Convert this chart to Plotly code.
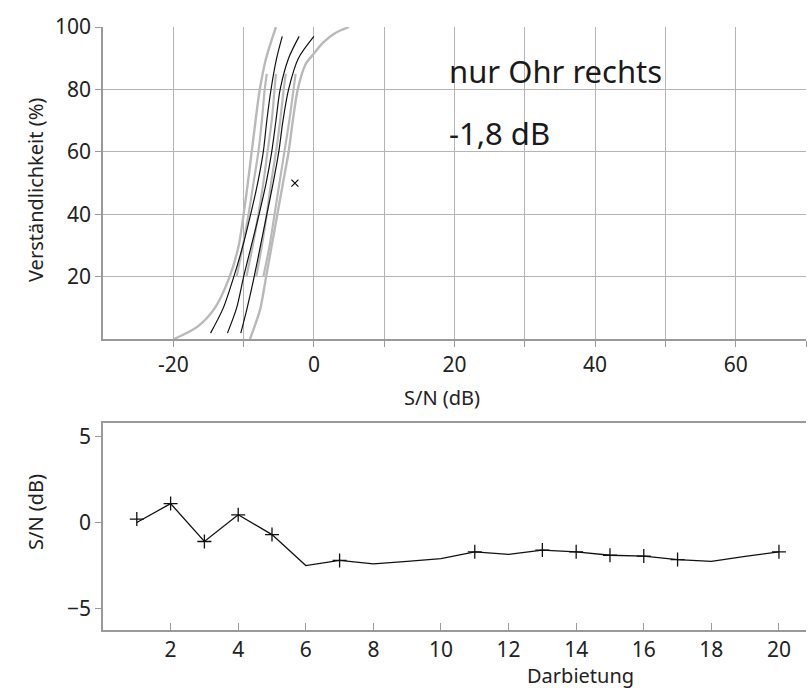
import plotly.graph_objects as go

# ---------------- top chart data: psychometric curves (S/N dB, %) ----------------
pct_full = [2, 10, 20, 30, 40, 50, 60, 70, 80, 90, 97]
black1_db = [-14.7, -12.9, -11.4, -10.1, -9.0, -8.0, -7.2, -6.7, -6.1, -5.3, -4.5]
black2_db = [-12.3, -11.0, -10.0, -8.9, -7.8, -6.8, -6.0, -5.4, -4.8, -3.6, -2.1]
black3_db = [-10.4, -9.5, -8.5, -7.6, -6.7, -5.8, -5.0, -4.4, -3.6, -2.2, 0.0]

gray_left_pct = [0, 4, 10, 20, 30, 40, 50, 60, 70, 80, 90, 100]
gray_left_db = [-20.0, -16.6, -14.1, -12.0, -10.7, -10.0, -9.4, -8.85, -8.3, -7.7, -6.8, -5.4]

gray_right_pct = [0, 5, 10, 20, 30, 40, 50, 60, 70, 80, 88, 91.5, 95, 98, 100]
gray_right_db = [-9.1, -8.3, -7.6, -6.8, -6.0, -5.2, -4.4, -3.6, -3.0, -2.3, -1.2, 0.0, 1.3, 3.0, 5.0]

pct_inner = [20, 30, 40, 50, 60, 70, 80, 85]
gray_in1_db = [-11.0, -10.1, -9.3, -8.6, -7.9, -7.4, -7.0, -6.7]
gray_in2_db = [-9.6, -8.7, -7.9, -7.2, -6.6, -6.0, -5.6, -5.4]
gray_in3_db = [-8.2, -7.4, -6.7, -6.1, -5.4, -4.8, -4.3, -4.0]
gray_in4_db = [-7.2, -6.3, -5.6, -4.9, -4.2, -3.5, -2.9, -2.6]

result_db = [-2.7]
result_pct = [50]

x_top_ticks = [-20, -10, 0, 10, 20, 30, 40, 50, 60, 70]
x_top_text = ["-20", "", "0", "", "20", "", "40", "", "60", ""]
y_top_ticks = [20, 40, 60, 80, 100]

# ---------------- bottom chart data: adaptive track ----------------
trial = list(range(1, 21))
snr_track = [0.0, 1.1, -1.1, 0.45, -0.7, -2.5, -2.2, -2.4, -2.25, -2.1,
             -1.7, -1.85, -1.6, -1.7, -1.9, -1.95, -2.15, -2.25, -1.97, -1.7]
marker_trial = [1, 2, 3, 4, 5, 7, 11, 13, 14, 15, 16, 17, 20]
marker_snr = [0.2, 1.1, -1.1, 0.45, -0.7, -2.2, -1.7, -1.6, -1.7, -1.9, -1.95, -2.15, -1.7]
x_bottom_ticks = list(range(2, 21, 2))
y_bottom_ticks = [-5, 0, 5]

FONT = "Noto Sans"
GRID = "#b4b4b4"
AXIS = "#9a9a9a"
LIGHT = "#b9b9b9"
INK = "#1a1a1a"

fig = go.Figure()

def add_curve(xs, ys, color, width):
    fig.add_trace(go.Scatter(x=xs, y=ys, mode="lines",
                             line=dict(color=color, width=width, shape="spline", smoothing=0.8),
                             xaxis="x", yaxis="y", hoverinfo="skip", showlegend=False))

add_curve(gray_left_db, gray_left_pct, LIGHT, 2.4)
add_curve(gray_right_db, gray_right_pct, LIGHT, 2.4)
for g in (gray_in1_db, gray_in2_db, gray_in3_db, gray_in4_db):
    add_curve(g, pct_inner, LIGHT, 2.2)
for b in (black1_db, black2_db, black3_db):
    add_curve(b, pct_full, "#111111", 1.2)

fig.add_trace(go.Scatter(x=result_db, y=result_pct, mode="markers",
                         marker=dict(symbol="x-thin", size=7, line=dict(color="#111111", width=1.2)),
                         xaxis="x", yaxis="y", showlegend=False))

fig.add_trace(go.Scatter(x=trial, y=snr_track, mode="lines", line=dict(color="#111111", width=1.3),
                         xaxis="x2", yaxis="y2", showlegend=False))
fig.add_trace(go.Scatter(x=marker_trial, y=marker_snr, mode="markers",
                         marker=dict(symbol="cross-thin", size=10, line=dict(color="#111111", width=1.3)),
                         xaxis="x2", yaxis="y2", showlegend=False))

fig.add_annotation(x=18.9, y=86, xref="x", yref="y", text="nur Ohr rechts", showarrow=False,
                   xanchor="left", yanchor="middle", font=dict(size=31, color=INK, family=FONT))
fig.add_annotation(x=18.9, y=66, xref="x", yref="y", text="-1,8 dB", showarrow=False,
                   xanchor="left", yanchor="middle", font=dict(size=31, color=INK, family=FONT))

tickfont = dict(size=21, color="#222222", family=FONT)
TF = dict(size=20, color="#222222", family=FONT)

# axis titles as paper annotations (plot area: l=103, r=2, t=27, b=58 -> 703 x 603 px)
L, T, PW, PH = 103, 27, 703, 603
def px(xp):
    return (xp - L) / PW
def py(yp):
    return (T + PH - yp) / PH

fig.add_annotation(x=px(442), y=py(397), xref="paper", yref="paper",
                   text="S/N (dB)", showarrow=False, xanchor="center", yanchor="middle", font=TF)
fig.add_annotation(x=px(580), y=py(675), xref="paper", yref="paper",
                   text="Darbietung", showarrow=False, xanchor="center", yanchor="middle", font=TF)
fig.add_annotation(x=px(35), y=py(190), xref="paper", yref="paper",
                   text="Verständlichkeit (%)", textangle=-90, showarrow=False,
                   xanchor="center", yanchor="middle", font=TF)
fig.add_annotation(x=px(35), y=py(512), xref="paper", yref="paper",
                   text="S/N (dB)", textangle=-90, showarrow=False,
                   xanchor="center", yanchor="middle", font=TF)

fig.update_layout(
    width=808, height=688,
    margin=dict(l=103, r=2, t=27, b=58, autoexpand=False),
    paper_bgcolor="white", plot_bgcolor="white",
    font=dict(family=FONT, color="#222222"),
    xaxis=dict(domain=[0, 1], anchor="y", range=[-30, 70], tickmode="array", automargin=False,
               tickvals=x_top_ticks, ticktext=x_top_text, showgrid=True, gridcolor=GRID, gridwidth=1,
               ticks="outside", ticklen=6, tickcolor=AXIS, showline=True, linecolor=AXIS, linewidth=1.5,
               zeroline=False, tickfont=tickfont),
    yaxis=dict(domain=[0.482, 1], anchor="x", range=[0, 100], tickmode="array", tickvals=y_top_ticks,
               automargin=False, showgrid=True, gridcolor=GRID, gridwidth=1, ticks="outside", ticklen=6,
               tickcolor=AXIS, showline=True, linecolor=AXIS, linewidth=1.5, zeroline=False, tickfont=tickfont),
    xaxis2=dict(domain=[0, 1], anchor="y2", range=[0, 20.8], tickmode="array", tickvals=x_bottom_ticks,
                automargin=False, showgrid=False, ticks="inside", ticklen=7, tickcolor=AXIS, showline=True,
                linecolor=AXIS, linewidth=1.5, mirror=True, zeroline=False, tickfont=tickfont),
    yaxis2=dict(domain=[0, 0.343], anchor="x2", range=[-6.24, 5.77], tickmode="array", tickvals=y_bottom_ticks,
                automargin=False, showgrid=False, ticks="outside", ticklen=6, tickcolor=AXIS, showline=True,
                linecolor=AXIS, linewidth=1.5, zeroline=False, tickfont=tickfont),
)

fig.write_html("out.html", config=dict(displayModeBar=False),
               post_script="document.body.style.margin='0px';document.body.style.overflow='hidden';")
